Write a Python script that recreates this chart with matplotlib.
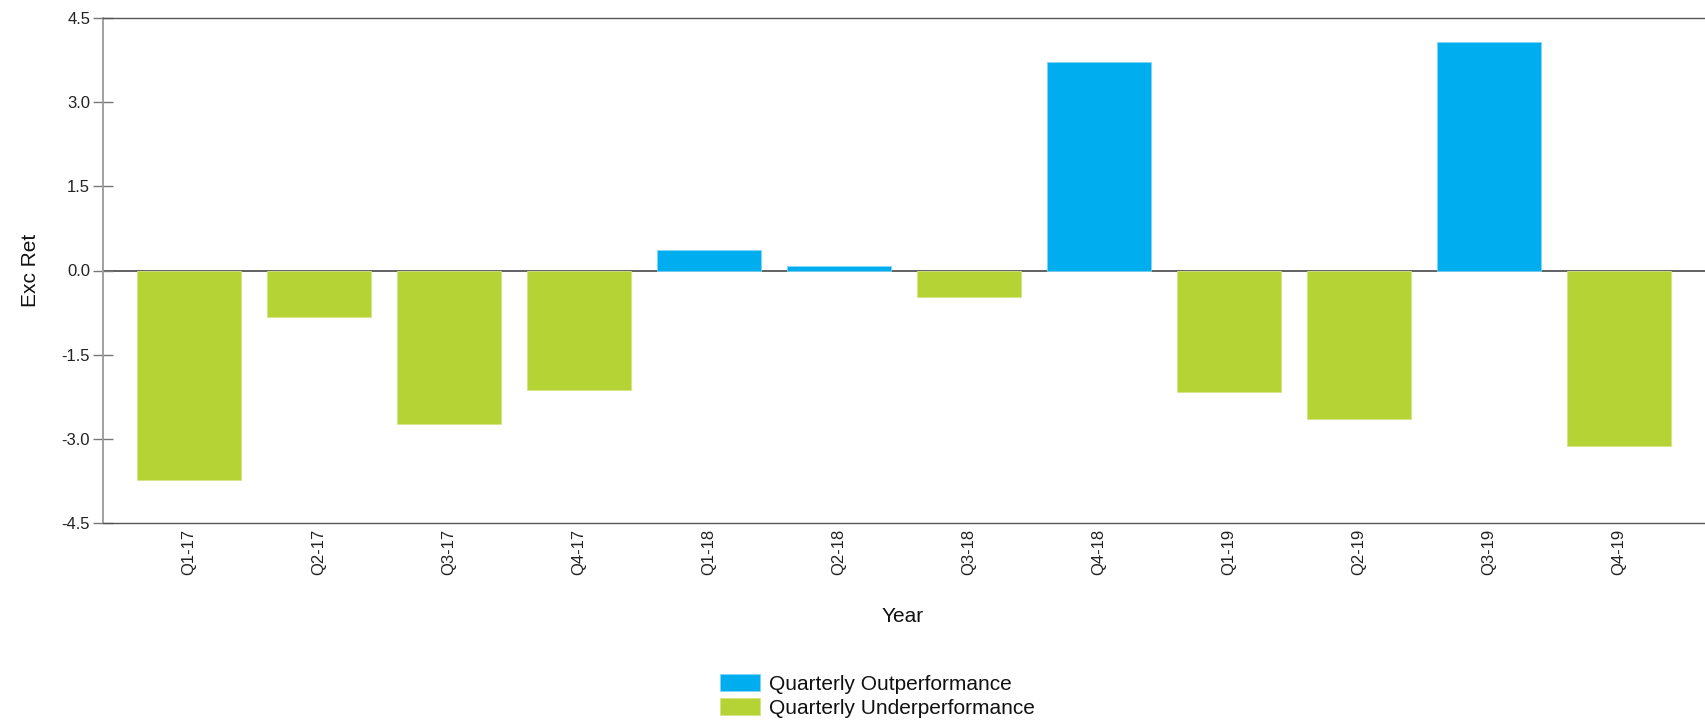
import matplotlib
matplotlib.use("Agg")
import matplotlib.pyplot as plt
import numpy as np

categories = ["Q1-17", "Q2-17", "Q3-17", "Q4-17", "Q1-18", "Q2-18",
              "Q3-18", "Q4-18", "Q1-19", "Q2-19", "Q3-19", "Q4-19"]
excess_returns = [-3.73, -0.82, -2.74, -2.13, 0.36, 0.08,
                  -0.48, 3.71, -2.16, -2.64, 4.08, -3.13]
y_ticks = [-4.5, -3.0, -1.5, 0.0, 1.5, 3.0, 4.5]
series_names = ["Quarterly Outperformance", "Quarterly Underperformance"]
BLUE = "#00AEEF"
GREEN = "#B5D334"

plt.rcParams['font.family'] = ['Liberation Sans', 'DejaVu Sans']

fig = plt.figure(figsize=(17.05, 7.22), dpi=100)
W, H = 1705, 722
left, right, top, bottom = 103, 1705, 18, 523
ax = fig.add_axes([left / W, 1 - bottom / H, (right - left) / W, (bottom - top) / H])

vals = np.array(excess_returns)
x = np.arange(len(categories))
pos = vals >= 0
ax.bar(x[pos], vals[pos], width=0.8, color=BLUE, label=series_names[0],
       edgecolor="#7fd6f7", linewidth=0.6, zorder=2)
ax.bar(x[~pos], vals[~pos], width=0.8, color=GREEN, label=series_names[1],
       edgecolor="#d4e585", linewidth=0.6, zorder=2)
ax.axhline(0, color="#555555", linewidth=1.3, zorder=1)

ax.set_xlim(-0.662, len(categories) - 1 + 0.662)
ax.set_ylim(-4.5, 4.5)
ax.set_yticks(y_ticks)
ax.set_yticklabels([f"{t:.1f}" for t in y_ticks])
ax.set_xticks(x)
ax.set_xticklabels(categories, rotation=90)

ax.tick_params(axis='y', direction='inout', length=14.4, width=1.0,
               color="#777777", labelsize=12, pad=2, labelcolor="#222222")
ax.tick_params(axis='x', length=0, labelsize=12, pad=4, labelcolor="#222222")

ax.spines["right"].set_visible(False)
ax.spines["left"].set_color("#999999")
ax.spines["left"].set_linewidth(1.3)
ax.spines["top"].set_color("#555555")
ax.spines["bottom"].set_color("#555555")
ax.spines["top"].set_linewidth(1.0)
ax.spines["bottom"].set_linewidth(1.0)

ax.set_ylabel("Exc Ret", fontsize=15, color="#111111")
ax.yaxis.set_label_coords((30 - left) / (right - left), 0.5)
ax.yaxis.label.set_va("center")
ax.set_xlabel("Year", fontsize=15, color="#111111")
ax.xaxis.set_label_coords((903 - left) / (right - left), (bottom - 616) / (bottom - top))
ax.xaxis.label.set_va("center")

leg = fig.legend(loc="upper left", bbox_to_anchor=(720 / W, 1 - 674 / H),
                 frameon=False, fontsize=15, handlelength=1.92, handleheight=0.9,
                 handletextpad=0.45, labelspacing=0.2, borderpad=0, borderaxespad=0)
for t in leg.get_texts():
    t.set_color("#111111")

fig.savefig("out.png", dpi=100)
